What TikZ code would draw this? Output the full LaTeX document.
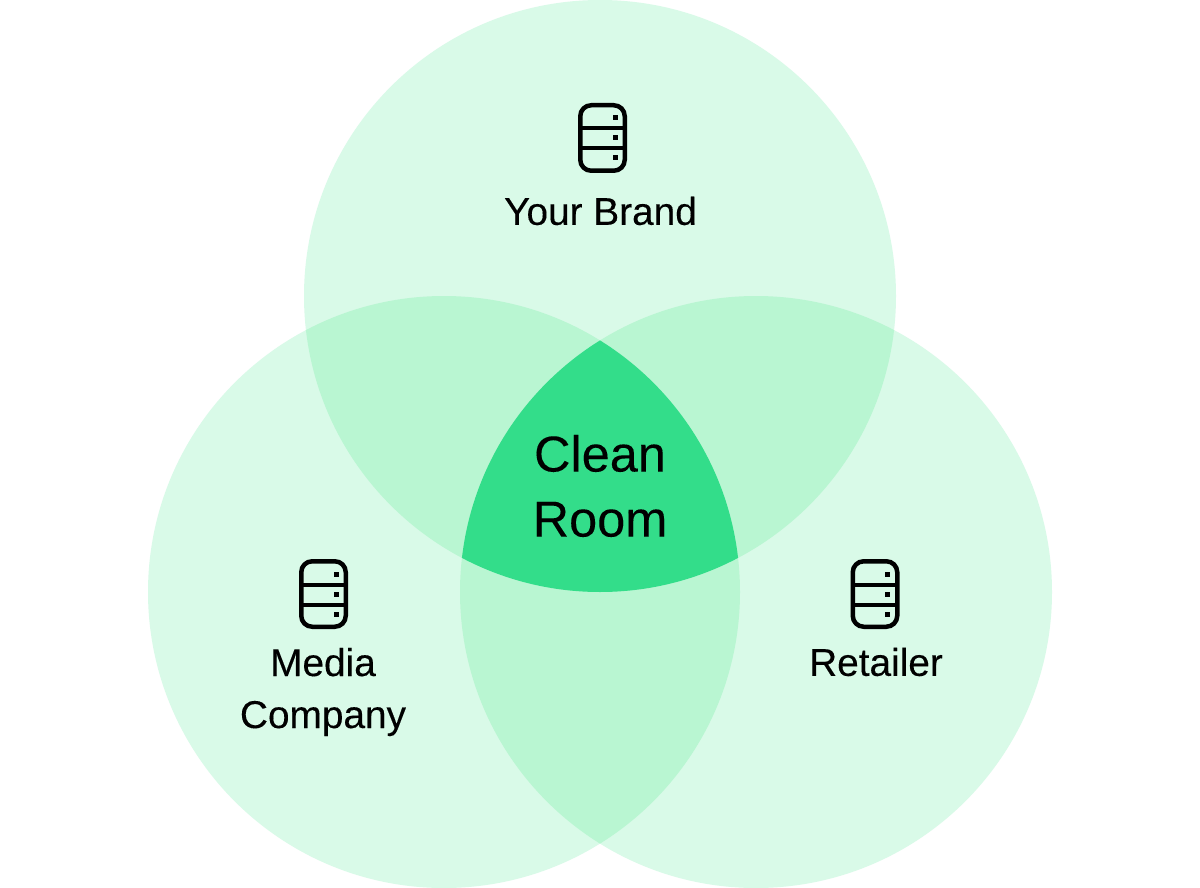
\documentclass[tikz,border=0pt]{standalone}
\usepackage{fontspec}
\setmainfont{Liberation Sans}
\newfontfamily\medfont[FakeBold=0.25]{Liberation Sans}
\newfontfamily\bigfont[FakeBold=0.1]{Liberation Sans}
\definecolor{oneC}{HTML}{D9FAE8}
\definecolor{twoC}{HTML}{B9F6D2}
\definecolor{threeC}{HTML}{33DD8A}
\tikzset{
  lbl/.style={font=\medfont\fontsize{38.8}{52}\selectfont, align=center, text=black, inner sep=0pt, anchor=center},
  biglbl/.style={font=\bigfont\fontsize{50.5}{65}\selectfont, align=center, text=black, inner sep=0pt, anchor=center},
  pics/dbicon/.style={code={
    \draw[line width=4.5pt, rounded corners=11pt] (-22.25,-32.75) rectangle (22.25,32.75);
    \draw[line width=4pt] (-22.25,-9.5) -- (22.25,-9.5) (-22.25,10.5) -- (22.25,10.5);
    \foreach \yy in {-20,0,20} \fill (10,\yy-2.5) rectangle (15,\yy+2.5);
  }}
}
\def\ctop{(600,296) circle (296)}
\def\cleft{(444,592) circle (296)}
\def\cright{(756,592) circle (296)}
\begin{document}
\begin{tikzpicture}[x=1pt,y=-1pt]
\useasboundingbox (0,0) rectangle (1200,888);
\fill[white] (0,0) rectangle (1200,888);
\fill[oneC] \ctop;
\fill[oneC] \cleft;
\fill[oneC] \cright;
\begin{scope}\clip \ctop; \fill[twoC] \cleft; \fill[twoC] \cright; \end{scope}
\begin{scope}\clip \cleft; \fill[twoC] \cright; \end{scope}
\begin{scope}\clip \ctop; \clip \cleft; \fill[threeC] \cright; \end{scope}
\pic at (602.5,138) {dbicon};
\pic at (323.5,594) {dbicon};
\pic at (875,594) {dbicon};
\node[lbl] (brand) at (600.5,211) {Your Brand};
\node[lbl] (media) at (323,692) {Media\\Company};
\node[lbl] (retail) at (876,662) {Retailer};
\node[biglbl] (clean) at (600,486) {Clean\\Room};
\end{tikzpicture}
\end{document}
